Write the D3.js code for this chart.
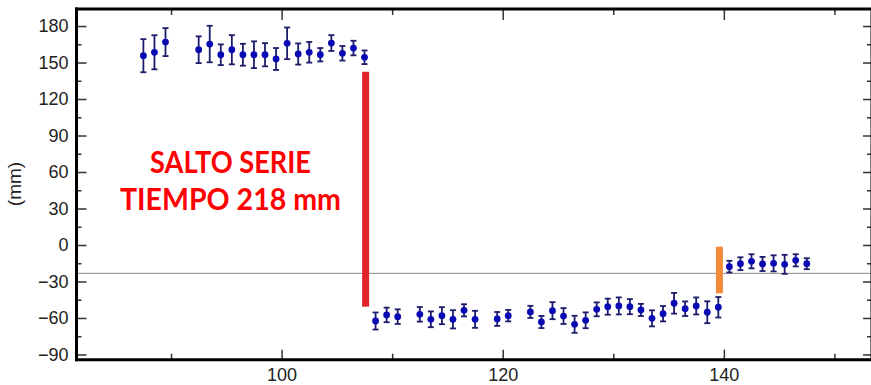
<!DOCTYPE html>
<html>
<head>
<meta charset="utf-8">
<script src="https://cdn.jsdelivr.net/npm/d3@7"></script>
<style>
  body { margin: 0; background: #fff; }
  svg { display: block; }
</style>
</head>
<body>
<div class="chart"></div>
<script>
// epochs (x) of each solution, displacement (mm) and its error bar
const weeks = [87.5, 88.5, 89.5, 92.5, 93.5, 94.5, 95.5, 96.5, 97.5, 98.5, 99.5, 100.5, 101.5, 102.5, 103.5, 104.5, 105.5, 106.5, 107.5,
  108.5, 109.5, 110.5, 112.5, 113.5, 114.5, 115.5, 116.5, 117.5, 119.5, 120.5,
  122.5, 123.5, 124.5, 125.5, 126.5, 127.5, 128.5, 129.5, 130.5, 131.5, 132.5, 133.5, 134.5, 135.5, 136.5, 137.5, 138.5, 139.5,
  140.5, 141.5, 142.5, 143.5, 144.5, 145.5, 146.5, 147.5]
const values = [155.6, 158.4, 166.8, 160.5, 165.2, 156.4, 160.5, 156.4, 156.4, 156.4, 152.9, 165.8, 157, 158.4, 156.4, 166, 157.6, 161.9, 154.3,
  -62.5, -57.5, -58.9, -57, -61.1, -58.1, -61.1, -53.7, -61.1, -60.8, -58.1,
  -55, -63.3, -54, -58.4, -65.2, -61.9, -52.9, -50.7, -50.1, -50.7, -53.4, -60.3, -56.5, -47.9, -52.4, -50.1, -55.3, -51.2,
  -17.8, -15.4, -13.4, -15.6, -15.1, -15.9, -12.6, -15.4]
const errors = [13.6, 14, 11.5, 11, 15, 8.5, 12, 9, 11, 9.5, 9, 13, 8.7, 8.5, 5.5, 6.5, 6, 6, 5.6,
  7, 6, 6, 6, 6.5, 7, 7.5, 5, 7, 5.7, 4.7,
  5, 5, 7, 6.5, 7, 6.5, 5.7, 6.6, 7, 6.2, 5, 6.6, 6.3, 8.5, 6, 7, 9, 8.4,
  4.8, 5.3, 5.8, 5.8, 6.6, 7.8, 5, 4.5]

// jumps marked on the series
const jumpWeeks = [107.6, 139.6]
const jumpTop = [142.4, -1.4]
const jumpBottom = [-50.7, -39.7]

const referenceLevel = -23.3
const yTicks = [-90, -60, -30, 0, 30, 60, 90, 120, 150, 180]
const yMinorTicks = [-75, -45, -15, 15, 45, 75, 105, 135, 165]
const xTicks = [100, 120, 140]
const xMinorTicks = [90, 110, 130, 150]
const yLabel = '(mm)'
const noteLines = ['SALTO SERIE', 'TIEMPO 218 mm']

const width = 871, height = 385
const margin = {top: 9, right: -1, bottom: 25.3, left: 76.5}
const innerW = width - margin.left - margin.right
const innerH = height - margin.top - margin.bottom

const svg = d3.select('.chart').append('svg').attr('width', width).attr('height', height)
svg.append('rect').attr('width', width).attr('height', height).attr('fill', '#fff')
const g = svg.append('g').attr('transform', `translate(${margin.left},${margin.top})`)

const x = d3.scaleLinear().domain([81.45, 153.4]).range([0, innerW])
const y = d3.scaleLinear().domain([-94.3, 194]).range([innerH, 0])

const font = 'Liberation Sans, Arial, sans-serif'

// minor ticks first, major on top
const addAxis = (axis, tr, cls) => {
  const a = g.append('g').attr('class', cls).attr('transform', tr).call(axis)
  a.select('.domain').remove()
  a.selectAll('line').attr('stroke', '#333').attr('stroke-width', 1.5)
  a.selectAll('text').attr('font-family', font).attr('font-size', 18).attr('fill', '#222')
  return a
}
addAxis(d3.axisLeft(y).tickValues(yMinorTicks).tickSize(-5).tickFormat(''), null, 'y-minor')
addAxis(d3.axisLeft(y).tickValues(yTicks).tickSize(-10).tickPadding(8), null, 'y-major')
addAxis(d3.axisRight(y).tickValues(yMinorTicks).tickSize(-5).tickFormat(''), `translate(${innerW},0)`, 'y-minor-r')
addAxis(d3.axisRight(y).tickValues(yTicks).tickSize(-9).tickFormat(''), `translate(${innerW},0)`, 'y-major-r')
addAxis(d3.axisBottom(x).tickValues(xMinorTicks).tickSize(-6).tickFormat(''), `translate(0,${innerH})`, 'x-minor')
const xb = addAxis(d3.axisBottom(x).tickValues(xTicks).tickSize(-10).tickPadding(9), `translate(0,${innerH})`, 'x-major')
xb.selectAll('text').attr('dy', '0.71em')
addAxis(d3.axisTop(x).tickValues(xMinorTicks).tickSize(-6).tickFormat(''), null, 'x-minor-t')
addAxis(d3.axisTop(x).tickValues(xTicks).tickSize(-11).tickFormat(''), null, 'x-major-t')

// reference line
g.append('line')
  .attr('x1', 0).attr('x2', innerW)
  .attr('y1', y(referenceLevel)).attr('y2', y(referenceLevel))
  .attr('stroke', '#8a8a8a').attr('stroke-width', 1)

// jump bars
const jumpColors = ['#e3232b', '#f28a3a']
g.selectAll('.jump')
  .data(jumpWeeks)
  .join('rect')
  .attr('class', 'jump')
  .attr('x', d => x(d) - 3.5)
  .attr('width', 7)
  .attr('y', (d, i) => y(jumpTop[i]))
  .attr('height', (d, i) => y(jumpBottom[i]) - y(jumpTop[i]))
  .attr('fill', (d, i) => jumpColors[i])

// error bars
const pts = weeks.map((w, i) => ({w, v: values[i], e: errors[i]}))
const eb = g.selectAll('.eb').data(pts).join('g').attr('class', 'eb')
  .attr('stroke', '#1c1c6b').attr('stroke-width', 1.8)
eb.append('line')
  .attr('x1', d => x(d.w)).attr('x2', d => x(d.w))
  .attr('y1', d => y(d.v + d.e)).attr('y2', d => y(d.v - d.e))
eb.append('line')
  .attr('x1', d => x(d.w) - 3).attr('x2', d => x(d.w) + 3)
  .attr('y1', d => y(d.v + d.e)).attr('y2', d => y(d.v + d.e))
eb.append('line')
  .attr('x1', d => x(d.w) - 3).attr('x2', d => x(d.w) + 3)
  .attr('y1', d => y(d.v - d.e)).attr('y2', d => y(d.v - d.e))

g.selectAll('.dot')
  .data(pts)
  .join('circle')
  .attr('class', 'dot')
  .attr('cx', d => x(d.w))
  .attr('cy', d => y(d.v))
  .attr('r', 3.4)
  .attr('fill', '#0a0ab4')

// frame
const frame = g.append('g').attr('stroke', '#000').attr('stroke-width', 3)
frame.append('line').attr('x1', 0).attr('x2', 0).attr('y1', -1.5).attr('y2', innerH + 1.5)
frame.append('line').attr('x1', -1.5).attr('x2', innerW).attr('y1', 0).attr('y2', 0)
frame.append('line').attr('x1', -1.5).attr('x2', innerW).attr('y1', innerH).attr('y2', innerH)
frame.append('line').attr('x1', innerW).attr('x2', innerW).attr('y1', 0).attr('y2', innerH)

// y label
svg.append('text')
  .attr('transform', `translate(21,184) rotate(-90)`)
  .attr('text-anchor', 'middle')
  .attr('font-family', font)
  .attr('font-size', 19)
  .attr('fill', '#222')
  .text(yLabel)

// annotation
const noteWidths = [161, 221]
svg.selectAll('.note')
  .data(noteLines)
  .join('text')
  .attr('class', 'note')
  .attr('x', 230.5)
  .attr('y', (d, i) => 173 + i * 37)
  .attr('text-anchor', 'middle')
  .attr('font-family', 'Lato, Open Sans, sans-serif')
  .attr('font-weight', 'bold')
  .attr('font-size', 30)
  .attr('fill', '#ff0000')
  .attr('textLength', (d, i) => noteWidths[i])
  .attr('lengthAdjust', 'spacingAndGlyphs')
  .text(d => d)
</script>
</body>
</html>
